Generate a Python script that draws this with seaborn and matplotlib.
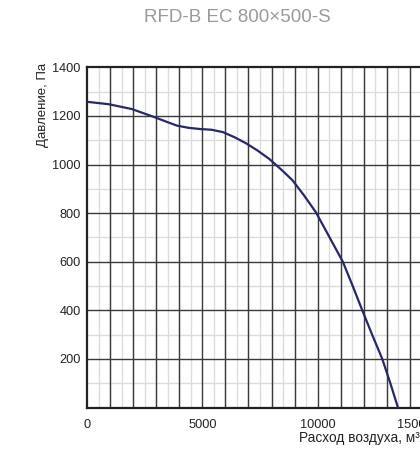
import matplotlib
matplotlib.use("Agg")
import matplotlib.pyplot as plt
from matplotlib.ticker import MultipleLocator, FixedLocator
import seaborn as sns
import pandas as pd

title = "RFD-B EC 800×500-S"
x_label = "Расход воздуха, м³/ч"
y_label = "Давление, Па"

airflow = [0, 950, 1950, 2950, 3500, 3900, 4400, 4900, 5400, 5900, 6400,
           6900, 7400, 7900, 8400, 8900, 9400, 9920, 10420, 11090, 11520,
           11930, 12360, 12800, 13150, 13480]
pressure = [1258, 1248, 1228, 1194, 1174, 1160, 1151, 1146, 1143, 1133, 1112,
            1087, 1057, 1023, 981, 936, 874, 804, 717, 600, 500,
            401, 300, 200, 100, 0]

x_ticks = [0, 5000, 10000, 15000]
y_ticks = [200, 400, 600, 800, 1000, 1200, 1400]

sns.set_style("white")
plt.rcParams["font.family"] = ["Liberation Sans", "DejaVu Sans"]

W, H = 420, 450
fig = plt.figure(figsize=(W / 100, H / 100), dpi=100)
ax = fig.add_axes([87 / W, (H - 407.5) / H, (433 - 87) / W, (407.5 - 67.3) / H])

df = pd.DataFrame({"airflow": airflow, "pressure": pressure})
sns.lineplot(data=df, x="airflow", y="pressure", ax=ax, color="#27276b",
             linewidth=1.6, zorder=5)

ax.set_xlim(0, 15000)
ax.set_ylim(0, 1400)
ax.xaxis.set_major_locator(FixedLocator(x_ticks))
ax.yaxis.set_major_locator(FixedLocator(y_ticks))
ax.xaxis.set_minor_locator(MultipleLocator(500))
ax.yaxis.set_minor_locator(MultipleLocator(100))
ax.set_xticklabels([str(v) for v in x_ticks])
ax.set_yticklabels([str(v) for v in y_ticks])
ax.get_xticklabels()[-1].set_horizontalalignment("right")

# grids: light minor everywhere, dark at every 1000 / 200
ax.grid(which="minor", color="#dcdcdc", linewidth=1.0, zorder=0)
for xv in range(1000, 15000, 1000):
    ax.axvline(xv, color="#3a3a3a", linewidth=1.0, zorder=1)
for yv in range(200, 1400, 200):
    ax.axhline(yv, color="#3a3a3a", linewidth=1.0, zorder=1)

ax.tick_params(axis="both", which="both", length=0, labelsize=9.2, colors="#222222")
ax.tick_params(axis="x", pad=8)
ax.tick_params(axis="y", pad=4.5)

for s in ["left", "top", "bottom", "right"]:
    ax.spines[s].set_color("#222222")
    ax.spines[s].set_linewidth(1.6)

ax.set_xlabel("")
ax.set_ylabel("")
fig.text(43 / W, 1 - 63 / H, y_label, rotation=90, ha="center", va="top",
         fontsize=9.5, color="#222222")
fig.text(299 / W, 1 - 438 / H, x_label, ha="left", va="center",
         fontsize=9.8, color="#222222")
fig.text(237 / W, 1 - 18 / H, title, ha="center", va="center",
         fontsize=13.5, color="#9a9a9a")

fig.savefig("out.png", dpi=100)
